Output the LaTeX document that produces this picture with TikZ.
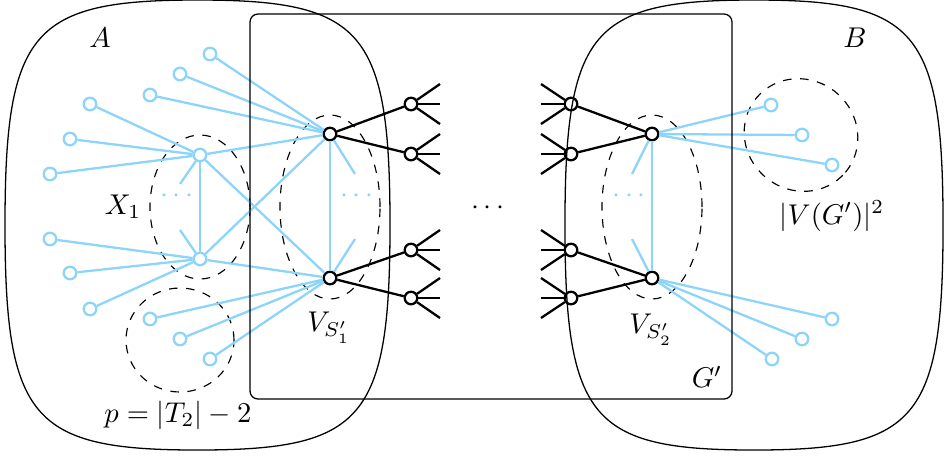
\documentclass[tikz,border=0pt]{standalone}
\definecolor{lblue}{RGB}{140,212,250}
\begin{document}
\begin{tikzpicture}[x=0.35pt,y=-0.35pt,
  bn/.style={circle,draw=black,fill=white,line width=0.8pt,inner sep=0pt,minimum size=4.4pt},
  ln/.style={circle,draw=lblue,fill=white,line width=0.8pt,inner sep=0pt,minimum size=4.4pt},
  be/.style={line width=0.8pt},
  ue/.style={draw=lblue,line width=0.8pt},
  grp/.style={dashed,line width=0.4pt},
  blob/.style={line width=0.45pt},
  lbl/.style={inner sep=0pt}]
\useasboundingbox (0,0) rectangle (944,457);

% dashed groups
\draw[grp] (200,207) ellipse [x radius=17.5pt, y radius=25.2pt];
\draw[grp] (330,207) ellipse [x radius=17.5pt, y radius=32.2pt];
\draw[grp] (652,207) ellipse [x radius=17.5pt, y radius=32.2pt];
\draw[grp] (180,340) ellipse [x radius=18.9pt, y radius=18.2pt];
\draw[grp] (801,135) ellipse [x radius=20.3pt, y radius=19.3pt, rotate=-40];

% black nodes
\node[bn] (s1a) at (330,134) {};
\node[bn] (s1b) at (330,278) {};
\node[bn] (l1) at (411,104) {};
\node[bn] (l2) at (411,154) {};
\node[bn] (l3) at (411,250) {};
\node[bn] (l4) at (411,298) {};
\node[bn] (r1) at (571,104) {};
\node[bn] (r2) at (571,154) {};
\node[bn] (r3) at (571,250) {};
\node[bn] (r4) at (571,298) {};
\node[bn] (s2a) at (652,134) {};
\node[bn] (s2b) at (652,278) {};

% blue nodes
\node[ln] (x1a) at (200,155) {};
\node[ln] (x1b) at (200,259) {};
\node[ln] (a1) at (50,174) {};
\node[ln] (a2) at (70,139) {};
\node[ln] (a3) at (90,104) {};
\node[ln] (b1) at (50,239) {};
\node[ln] (b2) at (70,273) {};
\node[ln] (b3) at (90,309) {};
\node[ln] (c1) at (210,54) {};
\node[ln] (c2) at (180,74) {};
\node[ln] (c3) at (150,95) {};
\node[ln] (d1) at (150,319) {};
\node[ln] (d2) at (180,339) {};
\node[ln] (d3) at (210,359) {};
\node[ln] (e1) at (771,105) {};
\node[ln] (e2) at (802,135) {};
\node[ln] (e3) at (832,165) {};
\node[ln] (f1) at (832,319) {};
\node[ln] (f2) at (802,339) {};
\node[ln] (f3) at (772,359) {};

% blue edges
\foreach \u in {a1,a2,a3,x1b,s1a,s1b} \draw[ue] (x1a) -- (\u);
\foreach \u in {b1,b2,b3,s1a,s1b} \draw[ue] (x1b) -- (\u);
\foreach \u in {c1,c2,c3,s1b} \draw[ue] (s1a) -- (\u);
\foreach \u in {d1,d2,d3} \draw[ue] (s1b) -- (\u);
\foreach \u in {e1,e2,e3,s2b} \draw[ue] (s2a) -- (\u);
\foreach \u in {f1,f2,f3} \draw[ue] (s2b) -- (\u);
\draw[ue] (x1a) -- ++(-20,29);
\draw[ue] (x1b) -- ++(-20,-29);
\draw[ue] (s1a) -- ++(25,40);
\draw[ue] (s1b) -- ++(25,-39);
\draw[ue] (s2a) -- ++(-20,40);
\draw[ue] (s2b) -- ++(-20,-39);

% blue dots
\node[lbl,anchor=base,text=lblue] (dx) at (177,202) {$\cdots$};
\node[lbl,anchor=base,text=lblue] (ds1) at (357,202) {$\cdots$};
\node[lbl,anchor=base,text=lblue] (ds2) at (629,202) {$\cdots$};

% black edges
\draw[be] (s1a) -- (l1);
\draw[be] (s1a) -- (l2);
\draw[be] (s1b) -- (l3);
\draw[be] (s1b) -- (l4);
\draw[be] (s2a) -- (r1);
\draw[be] (s2a) -- (r2);
\draw[be] (s2b) -- (r3);
\draw[be] (s2b) -- (r4);
\foreach \n in {l1,l2,l3,l4} {
  \draw[be] (\n) -- ++(29,-20);
  \draw[be] (\n) -- ++(29,0);
  \draw[be] (\n) -- ++(29,20);
}
\foreach \n in {r1,r2,r3,r4} {
  \draw[be] (\n) -- ++(-30,-20);
  \draw[be] (\n) -- ++(-30,0);
  \draw[be] (\n) -- ++(-30,20);
}
\node[lbl,anchor=base] (mid) at (488,214) {$\cdots$};

% blobs and G'
\tikzset{blobshape/.pic={
  \draw[blob] (-192.5,0) .. controls (-192.5,-195) and (-165,-225) .. (0,-225)
    .. controls (165,-225) and (192.5,-195) .. (192.5,0)
    .. controls (192.5,195) and (165,225) .. (0,225)
    .. controls (-165,225) and (-192.5,195) .. (-192.5,0) -- cycle;
}}
\pic at (197.5,225) {blobshape};
\pic[xscale=0.982] at (754,225) {blobshape};
\draw[blob,rounded corners=2.8pt] (250,14) rectangle (732,399);

% labels
\node[lbl] (lA) at (100,38) {$A$};
\node[lbl] (lB) at (855,38) {$B$};
\node[lbl] (lX) at (123,207) {$X_1$};
\node[lbl] (lV1) at (329,328) {$V_{S_1'}$};
\node[lbl] (lV2) at (651,330) {$V_{S_2'}$};
\node[lbl] (lp) at (178,415) {$p=|T_2|-2$};
\node[lbl] (lVG) at (832,216) {$|V(G')|^2$};
\node[lbl] (lG) at (707,377) {$G'$};
\end{tikzpicture}
\end{document}
